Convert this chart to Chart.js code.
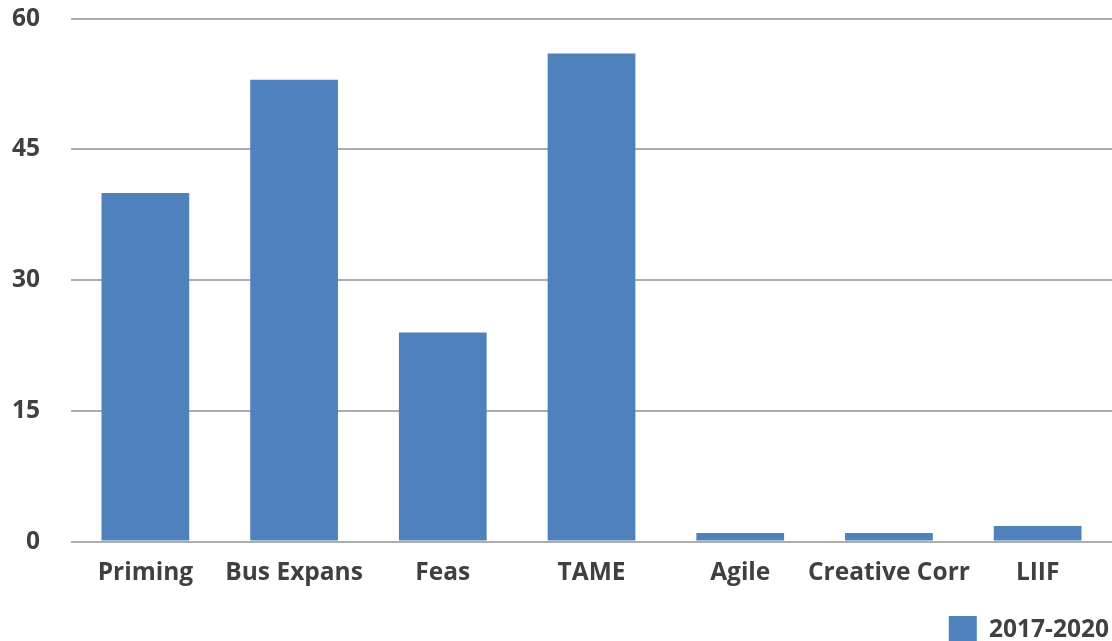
<!DOCTYPE html>
<html>
<head>
<meta charset="utf-8">
<script src="https://cdn.jsdelivr.net/npm/chart.js@4/dist/chart.umd.min.js"></script>
<style>
  html, body { margin: 0; padding: 0; background: #fff; overflow: hidden; }
  #wrap { width: 1140px; height: 681px; position: absolute; left: -28px; top: -27px; }
</style>
</head>
<body>
<div id="wrap"><canvas id="myChart"></canvas></div>
<script>
const categories = ["Priming", "Bus Expans", "Feas", "TAME", "Agile", "Creative Corr", "LIIF"];
const seriesLabel = "2017-2020";
const seriesValues = [40, 53, 24, 56, 1, 1, 1.8];
const yTicks = [0, 15, 30, 45, 60];

const textColor = "#404040";
const fontFamily = "'Open Sans', Lato, sans-serif";

// nudge the legend to the right edge (its padding leaves a gap there)
const legendShift = {
  id: "legendShift",
  afterLayout(chart) {
    chart.legend.left += 16;
    chart.legend.right += 16;
  },
};

new Chart(document.getElementById("myChart"), {
  type: "bar",
  data: {
    labels: categories,
    datasets: [
      {
        label: seriesLabel,
        data: seriesValues,
        backgroundColor: "#4F81BD",
        borderWidth: 0,
        barPercentage: 0.59,
        categoryPercentage: 1,
      },
    ],
  },
  options: {
    responsive: true,
    maintainAspectRatio: false,
    animation: false,
    layout: {
      padding: { left: 9, right: 0, top: 0, bottom: 0 },
    },
    plugins: {
      legend: {
        position: "bottom",
        align: "end",
        labels: {
          color: textColor,
          boxWidth: 28,
          boxHeight: 28,
          padding: 19,
          font: { family: fontFamily, size: 24.5, weight: "bold" },
        },
      },
      tooltip: { enabled: false },
    },
    scales: {
      y: {
        min: 0,
        max: 60,
        afterBuildTicks: (axis) => {
          axis.ticks = yTicks.map((v) => ({ value: v }));
        },
        grid: {
          color: "#ADADAD",
          lineWidth: 2,
          drawTicks: false,
        },
        border: { display: false },
        ticks: {
          color: textColor,
          padding: 31,
          font: { family: fontFamily, size: 24.5, weight: "bold" },
        },
      },
      x: {
        grid: { display: false },
        border: { display: false },
        ticks: {
          color: textColor,
          padding: 9,
          maxRotation: 0,
          autoSkip: false,
          font: { family: fontFamily, size: 24.5, weight: "bold" },
        },
      },
    },
  },
  plugins: [legendShift],
});
</script>
</body>
</html>
